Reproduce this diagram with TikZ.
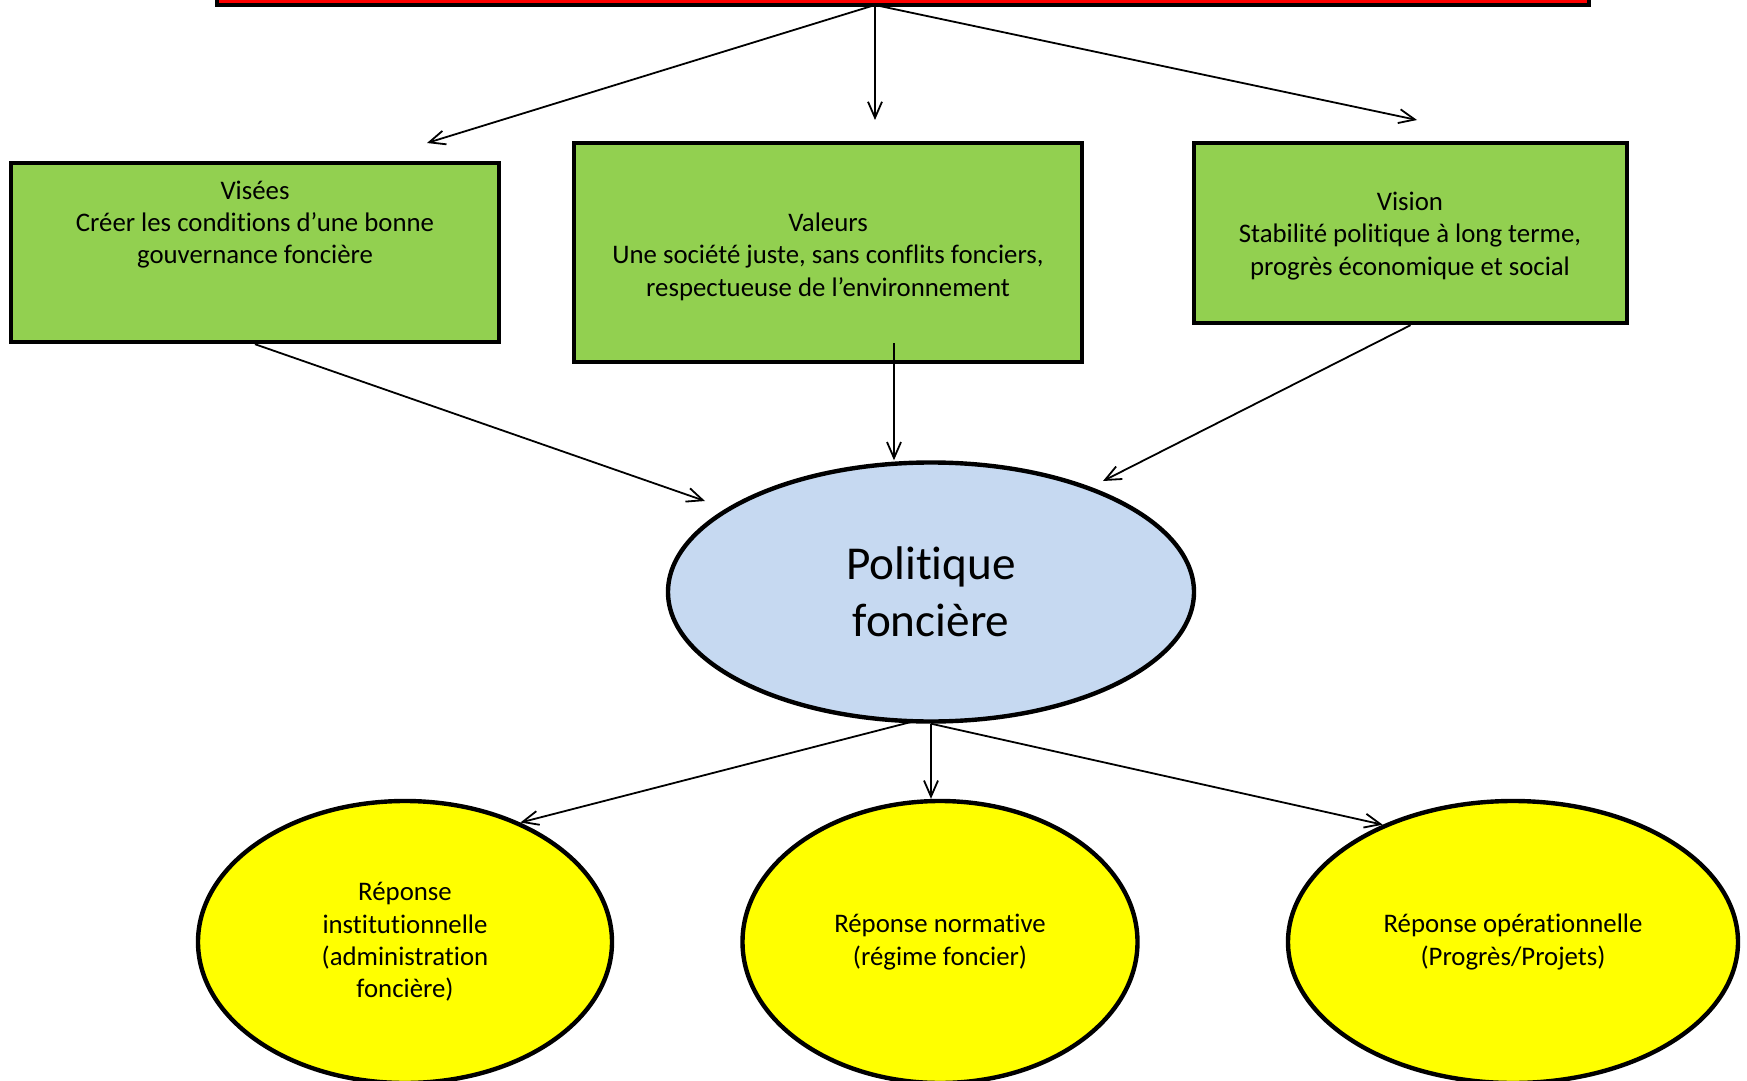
\documentclass[tikz,border=0pt]{standalone}
\usepackage{fontspec}
\setmainfont{Carlito}[Ligatures=NoCommon]
\usetikzlibrary{arrows.meta, shapes.geometric}
\definecolor{boxgreen}{HTML}{92D050}
\definecolor{polblue}{HTML}{C6D9F1}
\definecolor{repyellow}{HTML}{FFFF00}
\definecolor{barred}{HTML}{FF0000}
\begin{document}
\begin{tikzpicture}[
    x=0.5pt, y=-0.5pt,
    % Styles
    bar/.style={% For the red bar on top
        rectangle,
        draw,
        fill=barred,
        line width=2.2pt,
        },
    greenbox/.style={% For the three boxes
        rectangle,
        draw,
        fill=boxgreen,
        line width=2.2pt,
        },
    boxtext/.style={% For the texts in the boxes
        align=center,
        font=\fontsize{13.4}{16.2}\selectfont,
        },
    policy/.style={% For the central ellipse
        ellipse,
        draw,
        fill=polblue,
        line width=2.2pt,
        inner sep=0pt,
        align=center,
        font=\fontsize{23.6}{28.5}\selectfont,
        },
    answer/.style={% For the yellow ellipses
        ellipse,
        draw,
        fill=repyellow,
        line width=2.2pt,
        inner sep=0pt,
        minimum height=141pt,
        align=center,
        font=\fontsize{13.4}{16.2}\selectfont,
        },
    Arrow/.style={% Thin arrows with open tips
        -{Straight Barb[length=8pt,width=7pt]},
        line width=0.9pt,
        },
    ]

    \useasboundingbox (0,0) rectangle (1747,1081);
    \clip (0,0) rectangle (1747,1081);

    % Draw the bar on top
    \node [bar, minimum width=686pt, minimum height=15pt] (bar) at (903,-10) {};

    % Draw the boxes
    \node [greenbox, minimum width=244pt, minimum height=89.5pt] (viseesbox) at (255,252.5) {};
    \node [greenbox, minimum width=254pt, minimum height=109.5pt] (valeursbox) at (828,252.5) {};
    \node [greenbox, minimum width=216.5pt, minimum height=90pt] (visionbox) at (1410.5,233) {};

    % Texts of the boxes
    \node [boxtext] (visees) at (255,224.5)
        {Visées\\Créer les conditions d’une bonne\\gouvernance foncière};
    \node [boxtext] (valeurs) at (828,256.5)
        {Valeurs\\Une société juste, sans conflits fonciers,\\respectueuse de l’environnement};
    \node [boxtext] (vision) at (1410,236)
        {Vision\\Stabilité politique à long terme,\\progrès économique et social};

    % Draw the ellipses
    \node [policy, minimum width=263pt, minimum height=129.5pt] (politique) at (931,592)
        {Politique\\foncière};
    \node [answer, minimum width=207pt] (inst) at (405,942)
        {Réponse\\institutionnelle\\(administration\\foncière)};
    \node [answer, minimum width=197.5pt] (normative) at (940,942)
        {Réponse normative\\(régime foncier)};
    \node [answer, minimum width=225pt] (operat) at (1513,942)
        {Réponse opérationnelle\\(Progrès/Projets)};

    % Free ends of the arrows
    \coordinate (topsrc) at (875,5);
    \coordinate (tipvisees) at (427,143);
    \coordinate (tipvaleurs) at (875,120);
    \coordinate (tipvision) at (1417,120);
    \coordinate (valeursout) at (894,343);
    \coordinate (inleft) at (705,501);
    \coordinate (inright) at (1103,481);
    \coordinate (polout) at (911,722);

    % Draw Arrows
    % from the bar
    \draw [Arrow] (topsrc) -- (tipvisees);
    \draw [Arrow] (topsrc) -- (tipvaleurs);
    \draw [Arrow] (topsrc) -- (tipvision);

    % into the policy
    \draw [Arrow] (viseesbox.south) -- (inleft);
    \draw [Arrow] (valeursout) -- (valeursout |- politique.north);
    \draw [Arrow] (visionbox.south) -- (inright);

    % out of the policy
    \draw [Arrow] (polout) -- (inst.46);
    \draw [Arrow] (politique.south) -- (politique.south |- normative.north);
    \draw [Arrow] (politique.south) -- (operat.138);

\end{tikzpicture}
\end{document}
